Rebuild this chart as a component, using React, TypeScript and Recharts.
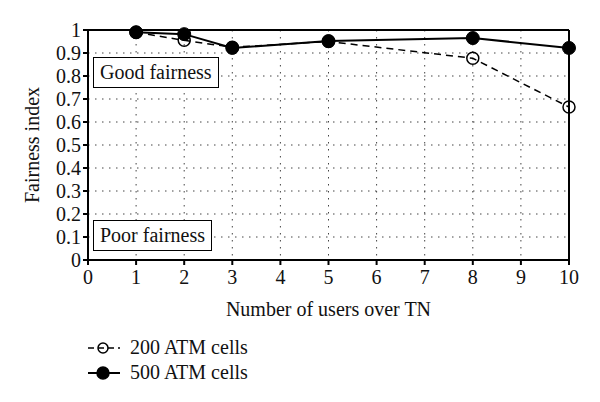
import { LineChart, Line, XAxis, YAxis, CartesianGrid, ReferenceLine } from 'recharts';

// Fairness index vs number of users over TN
const users = [1, 2, 3, 5, 8, 10];
const cells200 = [0.99, 0.955, 0.925, 0.95, 0.877, 0.665];
const cells500 = [0.99, 0.982, 0.922, 0.952, 0.965, 0.922];
const xTicks = [0, 1, 2, 3, 4, 5, 6, 7, 8, 9, 10];
const yTicks = [0, 0.1, 0.2, 0.3, 0.4, 0.5, 0.6, 0.7, 0.8, 0.9, 1];
const seriesNames = ['200 ATM cells', '500 ATM cells'];

const chartData = users.map((u, i) => ({
  users: u,
  [seriesNames[0]]: cells200[i],
  [seriesNames[1]]: cells500[i],
}));

const FONT = '"Liberation Serif", "DejaVu Serif", serif';

function LegendBlock() {
  return (
    <div style={{ position: 'absolute', left: 79, top: 327, fontFamily: FONT, fontSize: 20, color: '#111' }}>
      {seriesNames.map((name, i) => (
        <div key={name} style={{ display: 'flex', alignItems: 'center', height: 25 }}>
          <svg width={34} height={16} style={{ marginRight: 9 }}>
            <line
              x1={1}
              y1={8}
              x2={33}
              y2={8}
              stroke="#000"
              strokeWidth={i === 0 ? 1.5 : 2}
              strokeDasharray={i === 0 ? '6 4' : undefined}
            />
            <circle cx={16} cy={8} r={i === 0 ? 5 : 6} fill={i === 0 ? 'none' : '#000'} stroke="#000" strokeWidth={1.5} />
          </svg>
          <span>{name}</span>
        </div>
      ))}
    </div>
  );
}

const boxStyle: React.CSSProperties = {
  position: 'absolute',
  border: '1.5px solid #000',
  background: '#fff',
  fontFamily: FONT,
  fontSize: 20,
  color: '#111',
  padding: '0 6px',
  lineHeight: '29px',
  whiteSpace: 'nowrap',
};

export default function App() {
  return (
    <div style={{ position: 'relative', width: 592, height: 394 }}>
      <LineChart
        width={592}
        height={394}
        data={chartData}
        margin={{ top: 22, right: 31, bottom: 82, left: 32 }}
        style={{ fontFamily: FONT }}
      >
        <CartesianGrid
          horizontalValues={yTicks.slice(1, -1)}
          verticalValues={xTicks.slice(1, -1)}
          stroke="#444"
          strokeDasharray="1.5 5.5"
        />
        <XAxis
          dataKey="users"
          type="number"
          domain={[0, 10]}
          ticks={xTicks}
          interval={0}
          height={60}
          stroke="#000"
          strokeWidth={2}
          tickSize={5}
          tick={{ fill: '#111', fontSize: 20 }}
          tickMargin={5}
          label={{ value: 'Number of users over TN', position: 'insideBottom', offset: 4, fill: '#111', fontSize: 20 }}
        />
        <YAxis
          type="number"
          domain={[0, 1]}
          ticks={yTicks}
          interval={0}
          width={48}
          stroke="#000"
          strokeWidth={2}
          tickSize={5}
          tickMargin={2}
          tick={{ fill: '#111', fontSize: 20 }}
          tickFormatter={(v: number) => String(Math.round(v * 10) / 10)}
        />
        <ReferenceLine y={1} stroke="#000" strokeWidth={2} />
        <ReferenceLine x={10} stroke="#000" strokeWidth={2} />
        <Line
          type="linear"
          dataKey={seriesNames[0]}
          stroke="#000"
          strokeWidth={1.5}
          strokeDasharray="7 5"
          dot={{ r: 6, fill: 'none', stroke: '#000', strokeWidth: 1.5, strokeDasharray: '' }}
          isAnimationActive={false}
        />
        <Line
          type="linear"
          dataKey={seriesNames[1]}
          stroke="#000"
          strokeWidth={2}
          dot={{ r: 6.5, fill: '#000', stroke: '#000', strokeWidth: 1 }}
          isAnimationActive={false}
        />
      </LineChart>
      <div
        style={{
          position: 'absolute',
          left: 24,
          top: 137,
          transform: 'translate(-50%, -50%) rotate(-90deg)',
          fontFamily: FONT,
          fontSize: 20,
          color: '#111',
          whiteSpace: 'nowrap',
        }}
      >
        Fairness index
      </div>
      <div style={{ ...boxStyle, left: 85, top: 49 }}>Good fairness</div>
      <div style={{ ...boxStyle, left: 85, top: 212 }}>Poor fairness</div>
      <LegendBlock />
    </div>
  );
}
